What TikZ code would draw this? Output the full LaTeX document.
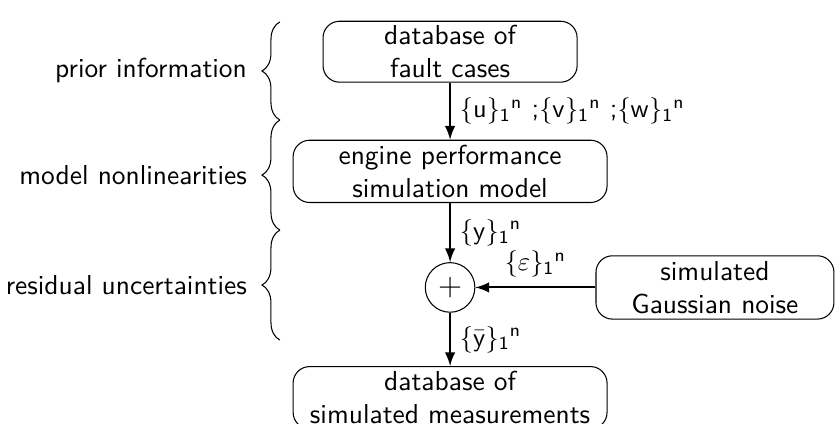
\documentclass[tikz,border=0pt]{standalone}
\usepackage{amsmath}
\usepackage{tikz}
\usetikzlibrary{positioning,shapes,arrows,calc,decorations.pathreplacing}
\renewcommand{\familydefault}{\sfdefault}
\newcommand{\seqset}[1]{$\{#1\}_{\mathsf{1}}{}^{\mathsf{n}}$}

\begin{document}
\begin{tikzpicture}[
  every node/.style={
    font=\fontsize{10.4}{12.4}\selectfont,
  },
  box/.style={
    draw,
    shape=rectangle,
    rounded corners=2.2mm,
    align=center,
    inner sep=1pt,
  },
  wide/.style={
    minimum width=119pt,
    minimum height=23.6pt,
  },
  narrow/.style={
    minimum width=96.3pt,
    minimum height=23.1pt,
  },
  noise/.style={
    minimum width=90.2pt,
    minimum height=24pt,
  },
  sum/.style={
    draw,
    circle,
    minimum size=18.8pt,
    inner sep=0pt,
    font=\large,
  },
  line/.style={
    thick,
    -latex,
  },
  brace/.style={
    decorate,
    decoration={brace,amplitude=6.8pt},
  }]
  \useasboundingbox (0pt,0pt) rectangle (316.5pt,-160.7pt);
  \node[box, narrow] (FAULTS) at (170.6pt,-19.6pt) {database of\\fault cases};
  \node[box, wide, below=21.6pt of FAULTS] (MODEL) {engine performance\\simulation model};
  \node[sum, below=22.4pt of MODEL] (ADD) {$+$};
  \node[box, wide, below=20.2pt of ADD] (MEAS) {database of\\simulated measurements};
  \node[box, noise, right=45.5pt of ADD] (NOISE) {simulated\\Gaussian noise};
  \draw[line] (FAULTS.south) -- node[right] (UVW)
    {\seqset{\mathsf{u}} ;\seqset{\mathsf{v}} ;\seqset{\mathsf{w}}} (MODEL.north);
  \draw[line] (MODEL.south) -- node[right] (Y) {\seqset{\mathsf{y}}} (ADD.north);
  \draw[line] (NOISE.west) -- node[above] (EPS) {\seqset{\varepsilon}} (ADD.east);
  \draw[line] (ADD.south) -- node[right] (YBAR) {\seqset{\bar{\mathsf{y}}}} (MEAS.north);
  % braces on the left
  \coordinate (B0) at (106.1pt,-8.3pt);
  \coordinate (B1) at (106.1pt,-45.5pt);
  \coordinate (B2) at (106.1pt,-87.2pt);
  \coordinate (B3) at (106.1pt,-128.9pt);
  \draw[brace] (B1) -- node[left=9pt] (PRIOR) {prior information} (B0);
  \draw[brace] (B2) -- node[left=9pt] (NONLIN) {model nonlinearities} (B1);
  \draw[brace] (B3) -- node[left=9pt] (RESID) {residual uncertainties} (B2);
\end{tikzpicture}
\end{document}
